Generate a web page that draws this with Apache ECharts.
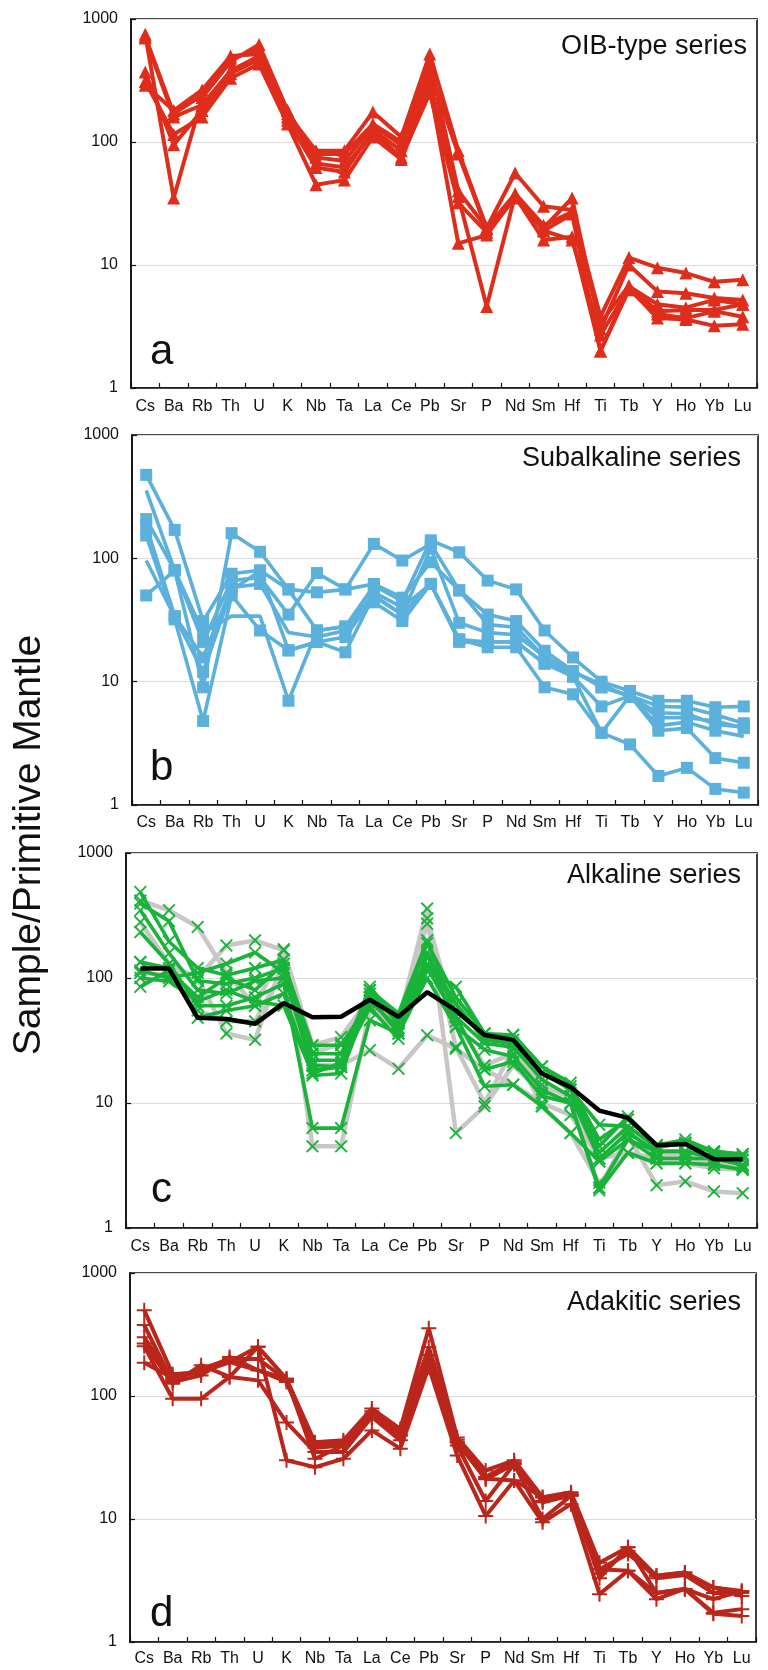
<!DOCTYPE html>
<html>
<head>
<meta charset="utf-8">
<title>Primitive mantle normalised patterns</title>
<script src="https://cdn.jsdelivr.net/npm/echarts@6/dist/echarts.min.js"></script>
<style>
  html, body { margin: 0; padding: 0; background: #fff; }
  #main { width: 768px; height: 1670px; }
</style>
</head>
<body>
<div id="main"></div>
<script>
//------------------ data ------------------
var elements = ['Cs','Ba','Rb','Th','U','K','Nb','Ta','La','Ce','Pb','Sr','P','Nd','Sm','Hf','Ti','Tb','Y','Ho','Yb','Lu'];
var yMin = 1, yMax = 1000;

// a - OIB-type series
var oibSamples = [
  [720, 170, 240, 480, 560, 170, 85, 85, 175, 110, 520, 85, 20, 56, 30, 28, 3.8, 11.5, 9.5, 8.6, 7.3, 7.6],
  [750, 35, 230, 450, 620, 180, 75, 70, 135, 95, 380, 80, 19.5, 37, 20, 35, 3.0, 10, 6.1, 5.9, 5.4, 5.2],
  [370, 95, 180, 360, 470, 150, 62, 57, 125, 85, 310, 36, 4.6, 37, 19, 26, 2.0, 6.7, 4.8, 4.5, 5.2, 4.8],
  [310, 115, 160, 330, 430, 140, 45, 49, 110, 72, 280, 15, 17.5, 36, 16, 17, 2.0, 6.3, 4.0, 3.7, 4.2, 3.8],
  [290, 180, 265, 500, 520, 180, 67, 62, 120, 75, 250, 32, 18.5, 35, 19, 16, 2.7, 6.5, 3.7, 3.6, 3.2, 3.3],
  [700, 160, 200, 380, 500, 160, 80, 80, 140, 100, 450, 40, 20, 38, 21, 27, 3.4, 6.8, 4.2, 4.3, 4.3, 4.8]
];

// b - Subalkaline series
var subalkSamples = [
  [475, 170, 31, 75, 80, 56, 26, 28, 60, 45, 140, 112, 66, 56, 26, 15.7, 10, 8.4, 7.0, 7.0, 6.2, 6.3],
  [355, 80, 9, 160, 113, 56, 53, 56, 131, 96, 131, 55, 35, 31, 17.8, 12.2, 9, 7.7, 6.3, 6.2, 5.4, 4.6],
  [208, 80, 21, 66, 70, 35, 76, 56, 62, 48, 93, 55, 29, 27.6, 15.7, 11, 6.3, 7.7, 5.1, 5.1, 4.8, 4.2],
  [184, 34, 15.7, 58, 62, 25, 23, 26, 53, 40, 62, 22, 21, 21, 14, 11, 3.85, 7.7, 4.4, 4.7, 4.0, 3.6],
  [153, 32, 4.8, 50, 26, 18, 21, 23, 49, 35, 62, 22, 19, 19, 9, 7.9, 3.85, 3.1, 1.72, 2.0, 1.35, 1.26],
  [50, 80, 25, 34, 34, 7.0, 26, 28, 44, 31, 62, 21, 21, 21, 14, 12.2, 9, 7.7, 4.0, 4.2, 2.4, 2.2],
  [96, 33.6, 12, 55, 79, 17.9, 21, 17.3, 50, 35, 120, 30, 25, 24, 16, 12, 9.5, 7.5, 5.6, 5.5, 4.5, 4.3]
];
// [sample, element] points drawn without a marker
var subalkNoMark = [[1, 0], [6, 0], [3, 5], [5, 3], [5, 4], [3, 21]];

// c - Alkaline series
var alkGreySamples = [
  [417, 348, 256, 110, 60, 170, 4.5, 4.5, 55, 45, 359, 5.75, 9.4, 20, 12, 10, 2.1, 5.5, 2.2, 2.36, 1.96, 1.9],
  [134, 115, 100, 182, 200, 166, 29, 33.7, 70, 45, 272, 28, 10, 27, 9.4, 5.75, 2.3, 4.0, 3.3, 3.3, 3.0, 2.93],
  [280, 130, 100, 36, 32, 140, 20, 20, 26.4, 18.8, 34.8, 27.2, 18.5, 14, 10, 8, 3.6, 4.0, 3.6, 3.6, 3.2, 3.0],
  [110, 105, 55, 45, 45, 120, 25, 30, 60, 38, 300, 45, 20, 25, 14, 11, 3.4, 6, 3.8, 3.8, 3.3, 3.1]
];
var alkGreenSamples = [
  [487, 196, 120, 105, 120, 140, 22, 22, 85, 45, 190, 70, 36, 35, 19.6, 14.5, 4.5, 7.8, 4.6, 5.1, 4.1, 3.9],
  [395, 285, 95, 90, 100, 120, 20, 19.4, 80, 43, 150, 62, 32, 30, 17.4, 12.8, 4.0, 6.5, 4.4, 4.8, 4.0, 3.7],
  [348, 158, 80, 75, 95, 100, 24.8, 24.8, 75, 52, 120, 49, 30, 28, 15.4, 11.3, 3.6, 5.8, 4.1, 4.1, 3.8, 3.5],
  [233, 130, 60, 60, 70, 90, 6.3, 6.3, 46, 36, 100, 40.5, 26.7, 23.6, 12.8, 10, 2.1, 5.1, 3.6, 3.6, 3.6, 3.2],
  [134, 120, 48, 55, 60, 75, 16.6, 17.2, 70, 36, 115, 85, 36, 32, 17.4, 13.6, 5.1, 7.4, 4.6, 4.7, 4.1, 3.86],
  [115, 100, 110, 130, 160, 110, 18.2, 19.4, 80, 52, 200, 49, 18.5, 21.5, 11.3, 10, 2.0, 4.0, 3.3, 3.3, 3.2, 2.93],
  [85, 115, 70, 100, 80, 130, 29, 29, 65, 40, 130, 62, 32, 35, 19.6, 12.8, 6.7, 6.5, 4.4, 4.8, 4.1, 3.5],
  [100, 94, 65, 80, 65, 60, 17.2, 21, 58, 32.7, 160, 41, 13.6, 14, 9.4, 5.75, 3.4, 5.1, 4.1, 4.1, 3.6, 3.2]
];
var alkAverage = [119, 119, 48, 47, 43, 63, 48.5, 49, 67, 49, 77, 55, 35, 32, 17.2, 13.4, 8.7, 7.6, 4.6, 4.7, 3.55, 3.55];

// d - Adakitic series
var adakSamples = [
  [499, 150, 157, 189, 251, 138, 42, 43.6, 79, 54, 355, 46, 24.8, 30, 15, 16.5, 4.4, 5.9, 3.45, 3.67, 2.77, 2.6],
  [377, 130, 147, 208, 162, 130, 38, 39.6, 72, 48, 215, 42, 21, 28, 13.7, 15.5, 3.9, 5.2, 3.45, 3.67, 2.77, 2.37],
  [267, 126, 178, 143, 134, 61, 35, 35, 67.5, 43.6, 184, 39.6, 14, 28, 10, 15.5, 3.3, 5.9, 2.5, 2.7, 2.23, 2.6],
  [254, 95, 95, 143, 251, 30, 26.4, 30.9, 52.5, 37.3, 172, 32.8, 10.6, 20.6, 9.4, 13.2, 2.45, 3.8, 2.23, 2.7, 1.73, 1.85],
  [186, 140, 157, 189, 162, 138, 30.9, 39.6, 67.5, 47.8, 215, 42, 21.2, 20.6, 15, 15.5, 3.9, 3.8, 2.5, 2.7, 1.7, 1.63],
  [300, 135, 165, 200, 200, 135, 40, 42, 75, 52, 250, 44, 22, 29, 14, 16, 3.6, 5.5, 3.3, 3.5, 2.5, 2.5]
];

//------------------ styling ------------------
var FONT = '"Liberation Sans", Arial, Helvetica, sans-serif';
var CROSS = 'path://M0,1.2L1.2,0L6,4.8L10.8,0L12,1.2L7.2,6L12,10.8L10.8,12L6,7.2L1.2,12L0,10.8L4.8,6Z';
var PLUS = 'path://M5.2,0H6.8V5.2H12V6.8H6.8V12H5.2V6.8H0V5.2H5.2Z';

var panels = [
  {grid: {left: 131, top: 19, width: 626, height: 369}, title: 'OIB-type series', tx: 747, ty: 47, letter: 'a', lx: 150, ly: 352, margin: 11},
  {grid: {left: 132, top: 435, width: 626, height: 370}, title: 'Subalkaline series', tx: 741, ty: 459, letter: 'b', lx: 150, ly: 768, margin: 10},
  {grid: {left: 126, top: 853, width: 631, height: 375}, title: 'Alkaline series', tx: 741, ty: 876, letter: 'c', lx: 151, ly: 1190, margin: 11},
  {grid: {left: 130, top: 1273, width: 626, height: 369}, title: 'Adakitic series', tx: 741, ty: 1303, letter: 'd', lx: 150, ly: 1614, margin: 9}
];

var grids = [], xAxes = [], yAxes = [], graphics = [];
panels.forEach(function(p, i){
  grids.push({
    left: p.grid.left, top: p.grid.top, width: p.grid.width, height: p.grid.height,
    show: true, borderColor: '#111', borderWidth: 1.6, backgroundColor: 'transparent'
  });
  xAxes.push({
    type: 'category', gridIndex: i, data: elements, boundaryGap: true,
    axisLine: {show: true, lineStyle: {color: '#111', width: 1.6}},
    axisTick: {show: true, inside: true, length: 5, interval: 0, lineStyle: {color: '#111', width: 1.2}},
    axisLabel: {interval: 0, margin: p.margin, fontSize: 16, color: '#111', fontFamily: FONT},
    splitLine: {show: false}
  });
  yAxes.push({
    type: 'log', logBase: 10, gridIndex: i, min: yMin, max: yMax,
    axisLine: {show: true, lineStyle: {color: '#111', width: 1.6}},
    axisTick: {show: true, inside: true, length: 5, lineStyle: {color: '#111', width: 1.2}},
    axisLabel: {margin: 13, fontSize: 16, color: '#111', fontFamily: FONT,
      formatter: function(v){ return String(Math.round(v)); }},
    splitLine: {show: true, lineStyle: {color: '#dcdcdc', width: 1.2}},
    minorTick: {show: false}
  });
  graphics.push({
    type: 'text', x: p.tx, y: p.ty, silent: true,
    style: {text: p.title, fill: '#111', font: '27px ' + FONT, align: 'right', verticalAlign: 'middle'}
  });
  graphics.push({
    type: 'text', x: p.lx, y: p.ly, silent: true,
    style: {text: p.letter, fill: '#111', font: '42px ' + FONT, align: 'left', verticalAlign: 'middle'}
  });
});

graphics.push({
  type: 'text', x: 29, y: 845, rotation: Math.PI / 2, silent: true,
  style: {text: 'Sample/Primitive Mantle', fill: '#111', font: '39px ' + FONT, align: 'center', verticalAlign: 'middle'}
});

//------------------ series ------------------
var series = [];

function addLine(idx, values, lineColor, lineWidth, symbol, symbolSize, markColor, z){
  series.push({
    type: 'line', xAxisIndex: idx, yAxisIndex: idx, data: values,
    symbol: symbol, symbolSize: symbolSize, showSymbol: true, showAllSymbol: true,
    lineStyle: {color: lineColor, width: lineWidth},
    itemStyle: {color: markColor, borderWidth: 0},
    emphasis: {disabled: true}, silent: true, animation: false, z: z || 2
  });
}

// a
oibSamples.forEach(function(s){
  addLine(0, s, '#df2d1c', 4, 'triangle', 13, '#df2d1c');
});

// b
subalkSamples.forEach(function(s, k){
  var d = s.map(function(v, j){
    var hide = subalkNoMark.some(function(m){ return m[0] === k && m[1] === j; });
    return hide ? {value: v, symbol: 'none'} : v;
  });
  addLine(1, d, '#5cb1dc', 3.6, 'rect', 12, '#5cb1dc');
});

// c
alkGreySamples.forEach(function(s){
  addLine(2, s, '#c9c6c6', 4.5, CROSS, 13, '#19b33a', 2);
});
alkGreenSamples.forEach(function(s){
  addLine(2, s, '#19b33a', 3.6, CROSS, 13, '#19b33a', 3);
});
addLine(2, alkAverage, '#000000', 4.5, 'none', 0, '#000000', 4);

// d
adakSamples.forEach(function(s){
  addLine(3, s, '#ba261b', 4, PLUS, 15, '#ba261b');
});

var myChart = echarts.init(document.getElementById('main'), null, {renderer: 'canvas'});
myChart.setOption({
  backgroundColor: '#ffffff',
  animation: false,
  textStyle: {fontFamily: FONT},
  grid: grids,
  xAxis: xAxes,
  yAxis: yAxes,
  graphic: graphics,
  series: series
});
</script>
</body>
</html>
